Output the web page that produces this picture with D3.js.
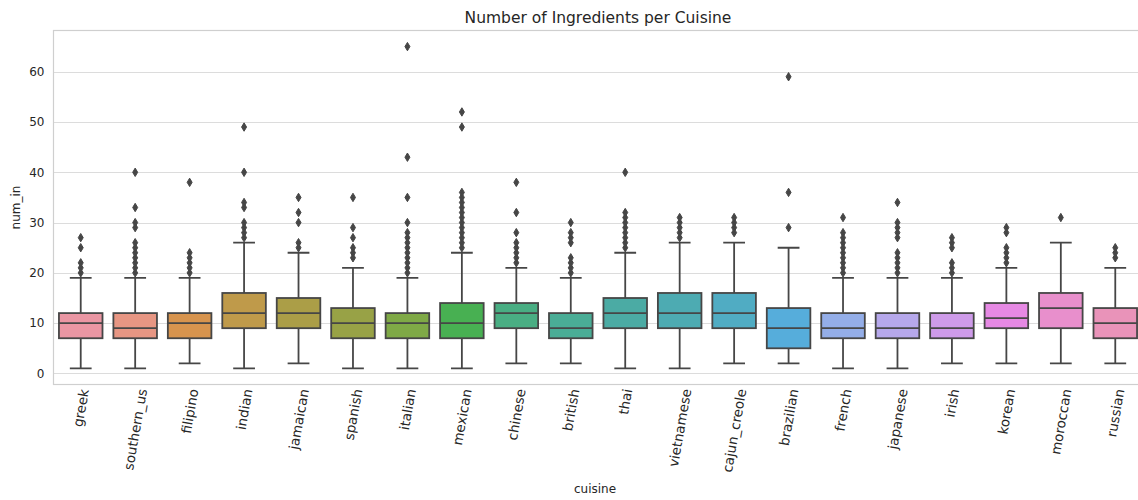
<!DOCTYPE html>
<html>
<head>
<meta charset="utf-8">
<script src="https://cdn.jsdelivr.net/npm/d3@7"></script>
<style>
  html, body { margin: 0; padding: 0; background: #fff; }
  svg { display: block; }
  text { font-family: "DejaVu Sans", sans-serif; fill: #262626; }
</style>
</head>
<body>
<svg id="chart" width="1138" height="500"></svg>
<script>
// Recipe counts per cuisine: box statistics for the number of ingredients
const cuisines = ["greek", "southern_us", "filipino", "indian", "jamaican", "spanish", "italian",
  "mexican", "chinese", "british", "thai", "vietnamese", "cajun_creole", "brazilian", "french",
  "japanese", "irish", "korean", "moroccan", "russian"];
const q1 =       [7, 7, 7, 9, 9, 7, 7, 7, 9, 7, 9, 9, 9, 5, 7, 7, 7, 9, 9, 7];
const medians =  [10, 9, 10, 12, 12, 10, 10, 10, 12, 9, 12, 12, 12, 9, 9, 9, 9, 11, 13, 10];
const q3 =       [12, 12, 12, 16, 15, 13, 12, 14, 14, 12, 15, 16, 16, 13, 12, 12, 12, 14, 16, 13];
const whiskerLow =  [1, 1, 2, 1, 2, 1, 1, 1, 2, 2, 1, 1, 2, 2, 1, 1, 2, 2, 2, 2];
const whiskerHigh = [19, 19, 19, 26, 24, 21, 19, 24, 21, 19, 24, 26, 26, 25, 19, 19, 19, 21, 26, 21];
const outliers = [
  [20, 21, 22, 25, 27],
  [20, 21, 22, 23, 24, 25, 26, 29, 30, 33, 40],
  [20, 21, 22, 23, 24, 38],
  [27, 28, 29, 30, 33, 34, 40, 49],
  [25, 26, 30, 32, 35],
  [23, 24, 25, 27, 29, 35],
  [20, 21, 22, 23, 24, 25, 26, 27, 28, 30, 35, 43, 65],
  [25, 26, 27, 28, 29, 30, 31, 32, 33, 34, 35, 36, 49, 52],
  [22, 23, 24, 25, 26, 28, 32, 38],
  [20, 21, 22, 23, 26, 27, 28, 30],
  [25, 26, 27, 28, 29, 30, 31, 32, 40],
  [27, 28, 29, 30, 31],
  [28, 29, 30, 31],
  [29, 36, 59],
  [20, 21, 22, 23, 24, 25, 26, 27, 28, 31],
  [20, 21, 22, 23, 24, 27, 28, 29, 30, 34],
  [20, 21, 22, 25, 26, 27],
  [22, 23, 24, 25, 28, 29],
  [31],
  [23, 24, 25]
];
const yTicks = [0, 10, 20, 30, 40, 50, 60];

// ---- HUSL palette (as used by seaborn for many categories) ----
const M = [[3.2406, -1.5372, -0.4986], [-0.9689, 1.8758, 0.0415], [0.0557, -0.2040, 1.0570]];
const refU = 0.19784, refV = 0.46834, labE = 0.008856, labK = 903.3;
function maxChroma(L, H) {
  const hr = H * Math.PI / 180, sinH = Math.sin(hr), cosH = Math.cos(hr);
  const sub1 = Math.pow(L + 16, 3) / 1560896;
  const sub2 = sub1 > labE ? sub1 : L / labK;
  let res = Infinity;
  for (const [m1, m2, m3] of M) {
    const top = (0.99915 * m1 + 1.05122 * m2 + 1.14460 * m3) * sub2;
    const rb = 0.86330 * m3 - 0.17266 * m2;
    const lb = 0.12949 * m3 - 0.38848 * m1;
    const bottom = (rb * sinH + lb * cosH) * sub2;
    for (const t of [0, 1]) {
      const C = L * (top - 1.05122 * t) / (bottom + 0.17266 * sinH * t);
      if (C > 0 && C < res) res = C;
    }
  }
  return res;
}
function huslToRgb(H, S, L) {
  const C = maxChroma(L, H) / 100 * S;
  const hr = H * Math.PI / 180;
  const U = Math.cos(hr) * C, V = Math.sin(hr) * C;
  const t = (L + 16) / 116;
  const varY = Math.pow(t, 3) > labE ? Math.pow(t, 3) : (116 * t - 16) / labK;
  const varU = U / (13 * L) + refU, varV = V / (13 * L) + refV;
  const Y = varY;
  const X = -(9 * Y * varU) / ((varU - 4) * varV - varU * varV);
  const Z = (9 * Y - 15 * varV * Y - varV * X) / (3 * varV);
  return M.map(r => {
    const c = r[0] * X + r[1] * Y + r[2] * Z;
    const v = c <= 0.0031308 ? 12.92 * c : 1.055 * Math.pow(c, 1 / 2.4) - 0.055;
    return Math.min(1, Math.max(0, v));
  });
}
const n = cuisines.length;
const fills = d3.range(n).map(i => {
  const h = ((i / n + 0.01) % 1) * 359;
  const [r, g, b] = huslToRgb(h, 0.9 * 99, 0.7 * 99);
  const c = d3.hsl(d3.rgb(r * 255, g * 255, b * 255));
  c.s *= 0.75;
  return c;
});
const minLight = d3.min(fills, c => c.l);
const lum = Math.round(minLight * 0.6 * 255);
const gray = d3.rgb(lum, lum, lum).formatHex();

// ---- layout ----
const plot = { left: 53.5, right: 1142.5, top: 30.5, bottom: 384.5 };
const svg = d3.select("#chart");

const x = d3.scaleBand().domain(cuisines).range([plot.left, plot.right]).padding(0);
const y = d3.scaleLinear().domain([-2.2, 68.2]).range([plot.bottom, plot.top]);
const bw = x.bandwidth() * 0.8;
const cw = bw * 0.5;

svg.append("defs").append("clipPath").attr("id", "plotClip").append("rect")
  .attr("x", plot.left).attr("y", plot.top)
  .attr("width", plot.right - plot.left).attr("height", plot.bottom - plot.top);

// horizontal grid and y tick labels
const yAxis = d3.axisLeft(y).tickValues(yTicks).tickSize(-(plot.right - plot.left)).tickPadding(9);
const gy = svg.append("g").attr("transform", `translate(${plot.left},0)`).call(yAxis);
gy.select(".domain").remove();
gy.selectAll(".tick line").attr("stroke", "#dcdcdc").attr("stroke-width", 1)
  .attr("shape-rendering", "crispEdges");
gy.selectAll(".tick text").attr("font-size", 12).attr("fill", "#262626")
  .style("font-family", "DejaVu Sans");

// spines
svg.append("rect")
  .attr("x", plot.left).attr("y", plot.top)
  .attr("width", plot.right - plot.left).attr("height", plot.bottom - plot.top)
  .attr("fill", "none").attr("stroke", "#cfcfcf").attr("stroke-width", 1.2);

const body = svg.append("g").attr("clip-path", "url(#plotClip)");
const boxes = body.selectAll("g.box").data(cuisines).join("g").attr("class", "box")
  .attr("transform", d => `translate(${x(d) + x.bandwidth() / 2},0)`);

const lw = 1.8;
// whiskers
boxes.append("line").attr("x1", 0).attr("x2", 0)
  .attr("y1", (d, i) => y(q3[i])).attr("y2", (d, i) => y(whiskerHigh[i]))
  .attr("stroke", gray).attr("stroke-width", lw);
boxes.append("line").attr("x1", 0).attr("x2", 0)
  .attr("y1", (d, i) => y(q1[i])).attr("y2", (d, i) => y(whiskerLow[i]))
  .attr("stroke", gray).attr("stroke-width", lw);
// caps
boxes.append("line").attr("x1", -cw / 2).attr("x2", cw / 2)
  .attr("y1", (d, i) => y(whiskerHigh[i])).attr("y2", (d, i) => y(whiskerHigh[i]))
  .attr("stroke", gray).attr("stroke-width", lw);
boxes.append("line").attr("x1", -cw / 2).attr("x2", cw / 2)
  .attr("y1", (d, i) => y(whiskerLow[i])).attr("y2", (d, i) => y(whiskerLow[i]))
  .attr("stroke", gray).attr("stroke-width", lw);
// box
boxes.append("rect").attr("x", -bw / 2).attr("width", bw)
  .attr("y", (d, i) => y(q3[i])).attr("height", (d, i) => y(q1[i]) - y(q3[i]))
  .attr("fill", (d, i) => fills[i]).attr("stroke", gray).attr("stroke-width", lw);
// median
boxes.append("line").attr("x1", -bw / 2).attr("x2", bw / 2)
  .attr("y1", (d, i) => y(medians[i])).attr("y2", (d, i) => y(medians[i]))
  .attr("stroke", gray).attr("stroke-width", lw);
// fliers (thin diamonds)
const dh = 4.2, dwid = 2.5;
const diamond = `M0,${-dh}L${dwid},0L0,${dh}L${-dwid},0Z`;
boxes.each(function (d, i) {
  d3.select(this).selectAll("path.flier").data(outliers[i]).join("path")
    .attr("class", "flier").attr("d", diamond)
    .attr("transform", v => `translate(0,${y(v)})`)
    .attr("fill", gray).attr("stroke", gray).attr("stroke-width", 1);
});

// x tick labels rotated 80 degrees, bbox centred under the tick
const xl = svg.append("g");
cuisines.forEach(c => {
  const g = xl.append("g");
  const t = g.append("text").text(c).attr("font-size", 13.5)
    .attr("text-anchor", "end").attr("dominant-baseline", "middle")
    .attr("transform", "rotate(-80)");
  const r = t.node().getBoundingClientRect();
  const cx = x(c) + x.bandwidth() / 2;
  g.attr("transform", `translate(${cx - (r.left + r.width / 2)},${plot.bottom + 3 - r.top})`);
});

// titles
svg.append("text").attr("x", (plot.left + plot.right) / 2).attr("y", 23)
  .attr("text-anchor", "middle").attr("font-size", 15.5)
  .text("Number of Ingredients per Cuisine");
svg.append("text").attr("x", (plot.left + plot.right) / 2 - 3).attr("y", 493)
  .attr("text-anchor", "middle").attr("font-size", 12).text("cuisine");
svg.append("text").attr("transform", `translate(20,${(plot.top + plot.bottom) / 2}) rotate(-90)`)
  .attr("text-anchor", "middle").attr("font-size", 12).text("num_in");
</script>
</body>
</html>
